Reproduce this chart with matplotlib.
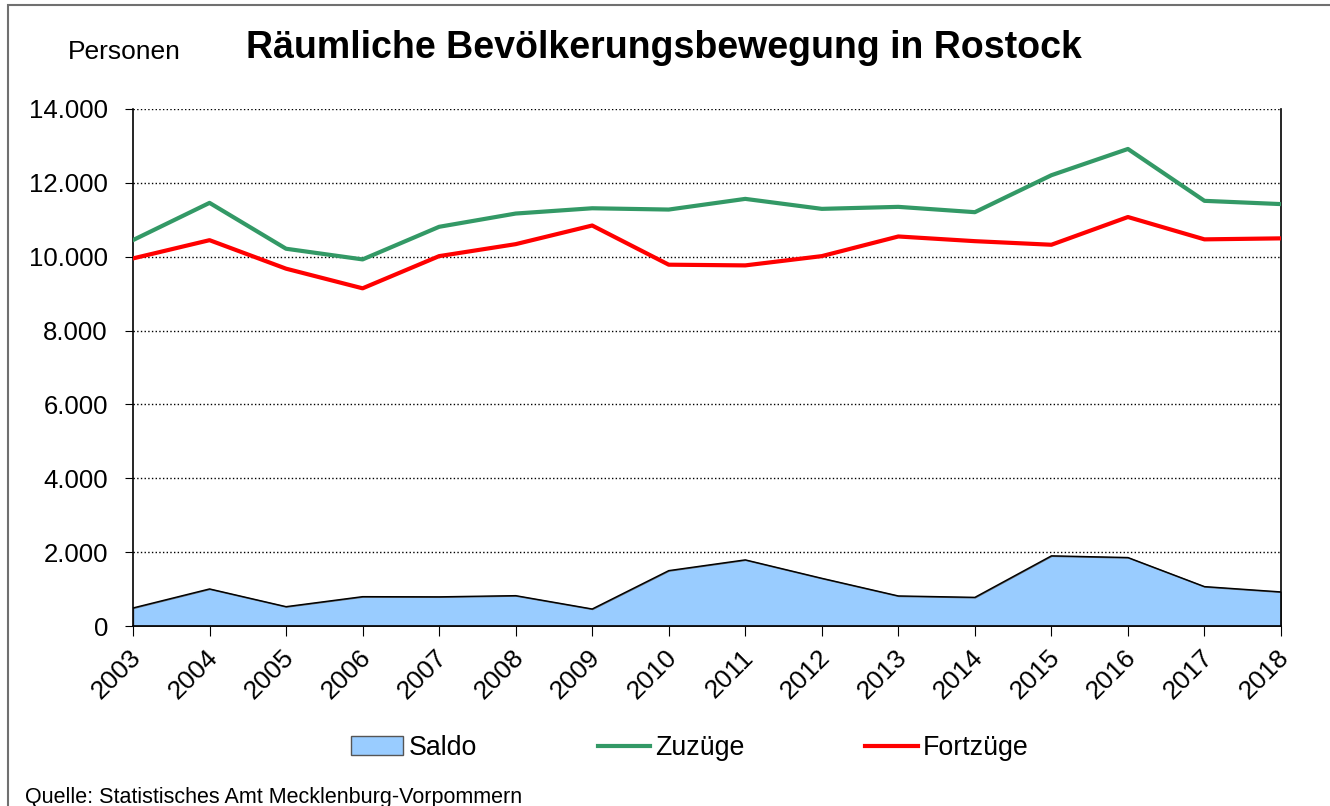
import numpy as np
import matplotlib.pyplot as plt
from matplotlib.patches import Rectangle
from matplotlib.ticker import FuncFormatter
from matplotlib.transforms import ScaledTranslation

plt.rcParams['font.family'] = ['Liberation Sans', 'DejaVu Sans']

years = [str(y) for y in range(2003, 2019)]
zuzuege = [10450, 11458, 10216, 9927, 10810, 11169, 11312, 11277,
           11566, 11296, 11350, 11206, 12207, 12918, 11513, 11425]
fortzuege = [9954, 10448, 9676, 9144, 10016, 10340, 10845, 9784,
             9765, 10016, 10548, 10421, 10324, 11075, 10470, 10497]
saldo = [489, 1004, 524, 795, 790, 822, 461, 1500,
         1791, 1292, 814, 776, 1900, 1854, 1067, 923]

fig = plt.figure(figsize=(13.3, 8.06), dpi=100)
ax = fig.add_axes([133/1330, 1 - 626/806, (1281 - 133)/1330, (626 - 109)/806])

x = np.arange(len(years))
ax.fill_between(x, saldo, 0, facecolor='#99CCFF', edgecolor='none', label='Saldo', zorder=2)
ax.plot(x, saldo, color='black', lw=1, zorder=3)
ax.plot(x, zuzuege, color='#339966', lw=3, label='Zuzüge', zorder=4)
ax.plot(x, fortzuege, color='#FF0000', lw=3, label='Fortzüge', zorder=4)

ax.set_xlim(0, len(years) - 1)
ax.set_ylim(0, 14000)
ax.set_yticks(np.arange(0, 14001, 2000))
ax.yaxis.set_major_formatter(FuncFormatter(lambda v, p: f'{int(v):,}'.replace(',', '.')))
ax.grid(axis='y', linestyle=':', color='black', lw=1, zorder=1)
ax.set_axisbelow(True)
ax.set_xticks(x)
ax.set_xticklabels(years, rotation=45, ha='right', va='top', rotation_mode='anchor')
ax.tick_params(axis='y', labelsize=18.5, length=6, direction='out', pad=12)
ax.tick_params(axis='x', labelsize=19, length=7, direction='out', pad=7)
# nudge the rotated year labels a little to the left
shift = ScaledTranslation(-4/100, 0, fig.dpi_scale_trans)
for lbl in ax.get_xticklabels():
    lbl.set_transform(lbl.get_transform() + shift)
ax.spines['top'].set_visible(False)
for s in ['left', 'right', 'bottom']:
    ax.spines[s].set_linewidth(1.2)

fig.text(664/1330, 1 - 48/806, 'Räumliche Bevölkerungsbewegung in Rostock',
         ha='center', va='center', fontsize=27, fontweight='bold')
fig.text(68/1330, 1 - 52/806, 'Personen', ha='left', va='center', fontsize=19)
fig.text(25/1330, 1 - 798/806, 'Quelle: Statistisches Amt Mecklenburg-Vorpommern',
         ha='left', va='center', fontsize=15.5)

handles, labels = ax.get_legend_handles_labels()
handles[0].set_edgecolor('#555555')
handles[0].set_linewidth(1)
fig.legend(handles, labels, loc='center', bbox_to_anchor=(690/1330, 1 - 748/806),
           ncol=3, frameon=False, fontsize=19.3, handlelength=1.95,
           handletextpad=0.2, columnspacing=4.5)

fig.patches.append(Rectangle((8/1330, -0.1), 1.2, 1 - 5/806 + 0.1, transform=fig.transFigure,
                             fill=False, edgecolor='#707070', lw=1.5, zorder=0))

fig.savefig('out.png', dpi=100)
